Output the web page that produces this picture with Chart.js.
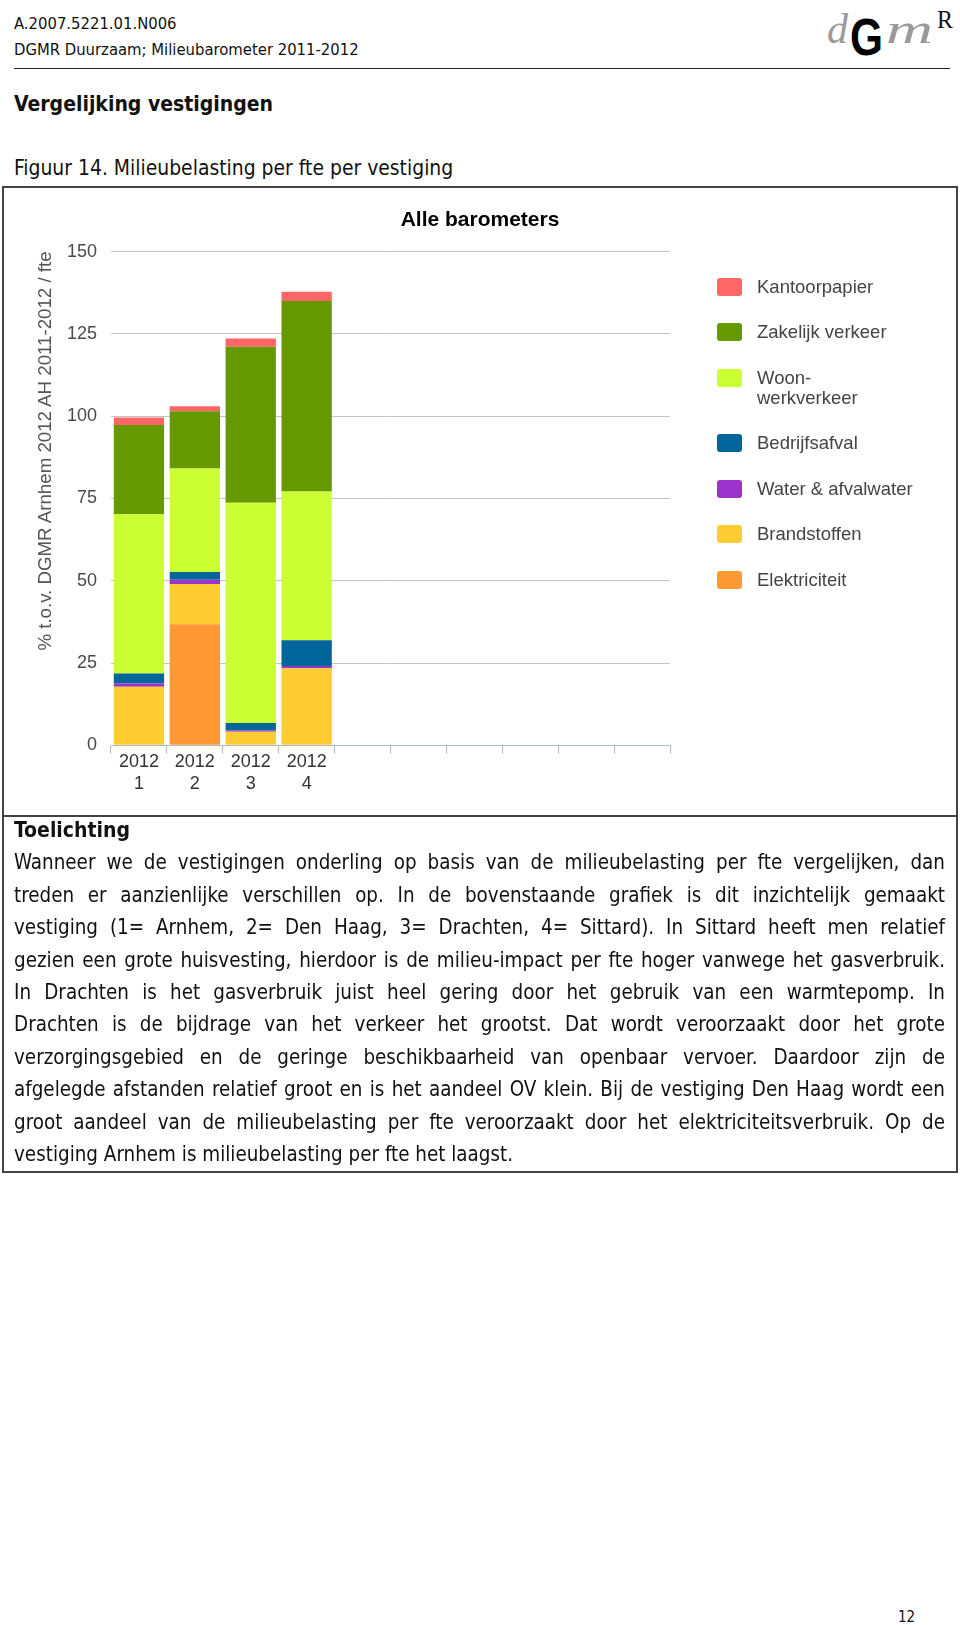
<!DOCTYPE html>
<html>
<head>
<meta charset="utf-8">
<script src="https://cdn.jsdelivr.net/npm/chart.js@4.4.1/dist/chart.umd.min.js"></script>
<style>
  html, body { margin: 0; padding: 0; background: #fff; }
  body {
    width: 960px; height: 1625px; position: relative; overflow: hidden;
    font-family: "DejaVu Sans Condensed", "DejaVu Sans", sans-serif;
    font-stretch: condensed; color: #111;
  }
  .t { position: absolute; white-space: nowrap; }
  .hdr { left: 14px; font-size: 16.5px; line-height: 20px; }
  #rule { position: absolute; left: 14px; top: 67.5px; width: 936px; height: 1.5px; background: #222; }
  #frame { position: absolute; left: 2px; top: 186px; width: 952px; height: 983px; border: 2px solid #444; }
  #divider { position: absolute; left: 2px; top: 815px; width: 956px; height: 2px; background: #444; }
  #chartWrap { position: absolute; left: 4px; top: 189px; width: 952px; height: 626px; }
  #ytitle {
    position: absolute; left: -165px; top: 440px; width: 420px; height: 22px;
    line-height: 22px; text-align: center; transform: rotate(-90deg);
    font-family: "Liberation Sans", Arial, sans-serif; font-size: 18.7px; color: #555;
  }
  #legend {
    position: absolute; left: 717px; top: 276.5px;
    font-family: "Liberation Sans", Arial, sans-serif; font-size: 18.5px; color: #444;
  }
  #legend .item { display: flex; align-items: flex-start; line-height: 20px; margin-bottom: 25.5px; }
  #legend .sw { width: 25px; height: 18px; border-radius: 3px; margin-top: 1px; margin-right: 15px; flex: none; }
  #notes { position: absolute; left: 14px; top: 814px; width: 931px; font-size: 20.4px; line-height: 32.4px; }
  #notes .ln { text-align: justify; text-align-last: justify; height: 32.4px; overflow: visible; }
  #notes .ln.last { text-align-last: left; }
  #notes .head { font-weight: bold; font-size: 21px; height: 32.4px; }
</style>
</head>
<body>

<div class="t hdr" style="top:14px">A.2007.5221.01.N006</div>
<div class="t hdr" style="top:40px">DGMR Duurzaam; Milieubarometer 2011-2012</div>
<svg style="position:absolute;left:0;top:0" width="960" height="70">
  <text x="827" y="43" textLength="21" lengthAdjust="spacingAndGlyphs" font-family="Liberation Serif, serif" font-style="italic" font-size="42" fill="#9a9a9a">d</text>
  <text x="850" y="55" textLength="33" lengthAdjust="spacingAndGlyphs" font-family="Liberation Sans, Arial, sans-serif" font-weight="bold" font-size="52" fill="#000">G</text>
  <text x="886" y="43" textLength="47" lengthAdjust="spacingAndGlyphs" font-family="Liberation Serif, serif" font-style="italic" font-size="43" fill="#9a9a9a">m</text>
  <text x="937" y="28" textLength="16" lengthAdjust="spacingAndGlyphs" font-family="Liberation Serif, serif" font-size="25" fill="#111">R</text>
</svg>
<div id="rule"></div>

<div class="t" style="left:14px;top:91px;font-size:21px;line-height:26px;font-weight:bold">Vergelijking vestigingen</div>
<div class="t" style="left:14px;top:155px;font-size:20.9px;line-height:26px">Figuur 14. Milieubelasting per fte per vestiging</div>

<div id="frame"></div>
<div id="divider"></div>

<div id="chartWrap"><canvas id="chart"></canvas></div>
<div id="ytitle">% t.o.v. DGMR Arnhem 2012 AH 2011-2012 / fte</div>
<div id="legend"></div>

<div id="notes">
  <div class="head">Toelichting</div>
  <div class="ln">Wanneer we de vestigingen onderling op basis van de milieubelasting per fte vergelijken, dan</div>
  <div class="ln">treden er aanzienlijke verschillen op. In de bovenstaande grafiek is dit inzichtelijk gemaakt</div>
  <div class="ln">vestiging (1= Arnhem, 2= Den Haag, 3= Drachten, 4= Sittard). In Sittard heeft men relatief</div>
  <div class="ln">gezien een grote huisvesting, hierdoor is de milieu-impact per fte hoger vanwege het gasverbruik.</div>
  <div class="ln">In Drachten is het gasverbruik juist heel gering door het gebruik van een warmtepomp. In</div>
  <div class="ln">Drachten is de bijdrage van het verkeer het grootst. Dat wordt veroorzaakt door het grote</div>
  <div class="ln">verzorgingsgebied en de geringe beschikbaarheid van openbaar vervoer. Daardoor zijn de</div>
  <div class="ln">afgelegde afstanden relatief groot en is het aandeel OV klein. Bij de vestiging Den Haag wordt een</div>
  <div class="ln">groot aandeel van de milieubelasting per fte veroorzaakt door het elektriciteitsverbruik. Op de</div>
  <div class="ln last">vestiging Arnhem is milieubelasting per fte het laagst.</div>
</div>

<div class="t" style="left:898px;top:1607px;font-size:15px;line-height:20px">12</div>

<script>
// ── data ─────────────────────────────────────────────────────────────────
// ten category slots on the axis, only the first four are used
const categories = [['2012', '1'], ['2012', '2'], ['2012', '3'], ['2012', '4'], '', '', '', '', '', ''];

const yMax  = 150;
const yStep = 25;

// stacked bottom → top
const elektriciteit  = [0,    36.8, 0,    0];
const brandstoffen   = [17.8, 12.2, 4.1,  23.4];
const water          = [1.0,  1.3,  0.4,  0.7];
const bedrijfsafval  = [3.0,  2.4,  2.3,  7.8];
const woonwerk       = [48.5, 31.4, 66.9, 45.2];
const zakelijk       = [27.0, 17.4, 47.4, 57.9];
const kantoorpapier  = [2.3,  1.5,  2.5,  2.8];

const seriesNames  = ['Elektriciteit', 'Brandstoffen', 'Water & afvalwater', 'Bedrijfsafval',
                      ['Woon-', 'werkverkeer'], 'Zakelijk verkeer', 'Kantoorpapier'];
const seriesValues = [elektriciteit, brandstoffen, water, bedrijfsafval, woonwerk, zakelijk, kantoorpapier];
const seriesColors = ['#ff9933', '#ffcc33', '#9933cc', '#006699', '#ccff33', '#669900', '#ff6666'];

// ── chart ────────────────────────────────────────────────────────────────
Chart.defaults.font.family = '"Liberation Sans", Arial, sans-serif';
Chart.defaults.animation = false;

const gridGray = '#c4c4c4';
const axisBlue = '#a9bcd2';

new Chart(document.getElementById('chart'), {
  type: 'bar',
  data: {
    labels: categories,
    datasets: seriesValues.map((vals, i) => ({
      label: Array.isArray(seriesNames[i]) ? seriesNames[i].join('') : seriesNames[i],
      data: vals,
      backgroundColor: seriesColors[i],
      borderWidth: 0,
      barPercentage: 0.9,
      categoryPercentage: 1.0,
    }))
  },
  options: {
    responsive: true, maintainAspectRatio: false,
    layout: { padding: { left: 0, right: 0, top: 0, bottom: 22.5 } },
    plugins: {
      legend: { display: false },
      tooltip: { enabled: false },
      title: {
        display: true, text: 'Alle barometers', color: '#000',
        font: { size: 21, weight: 'bold' },
        padding: { top: 18.4, bottom: 19.1 }
      }
    },
    scales: {
      x: {
        stacked: true, offset: true,
        grid: { offset: true, drawOnChartArea: false, drawTicks: true, tickLength: 8, color: axisBlue },
        border: { color: axisBlue },
        ticks: { color: '#333', font: { size: 18 }, padding: -2, autoSkip: false, maxRotation: 0 }
      },
      y: {
        stacked: true, min: 0, max: yMax,
        ticks: { stepSize: yStep, color: '#4a4a4a', font: { size: 18 }, padding: 14 },
        grid: { drawTicks: false, color: c => (c.tick && c.tick.value === 0) ? 'rgba(0,0,0,0)' : gridGray },
        border: { display: false },
        afterFit: s => { s.width = 107; }
      },
      // keeps room on the right for the legend without moving the title
      room: {
        position: 'right', display: true,
        grid: { display: false }, border: { display: false }, ticks: { display: false },
        afterFit: s => { s.width = 286; }
      }
    }
  }
});

// ── legend (top → bottom = reverse of stacking) ─────────────────────────
const legendEl = document.getElementById('legend');
for (let i = seriesNames.length - 1; i >= 0; i--) {
  const item = document.createElement('div');
  item.className = 'item';
  const sw = document.createElement('span');
  sw.className = 'sw';
  sw.style.background = seriesColors[i];
  const txt = document.createElement('span');
  const name = seriesNames[i];
  txt.innerHTML = Array.isArray(name) ? name.join('<br>') : name.replace('&', '&amp;');
  item.appendChild(sw);
  item.appendChild(txt);
  legendEl.appendChild(item);
}

// shrink a note line a little if it would wrap onto a second line
document.querySelectorAll('#notes .ln').forEach(el => {
  let size = 20.4;
  el.style.height = 'auto';
  while (el.getBoundingClientRect().height > 40 && size > 14) {
    size -= 0.2;
    el.style.fontSize = size + 'px';
  }
  el.style.height = '32.4px';
});
</script>
</body>
</html>
